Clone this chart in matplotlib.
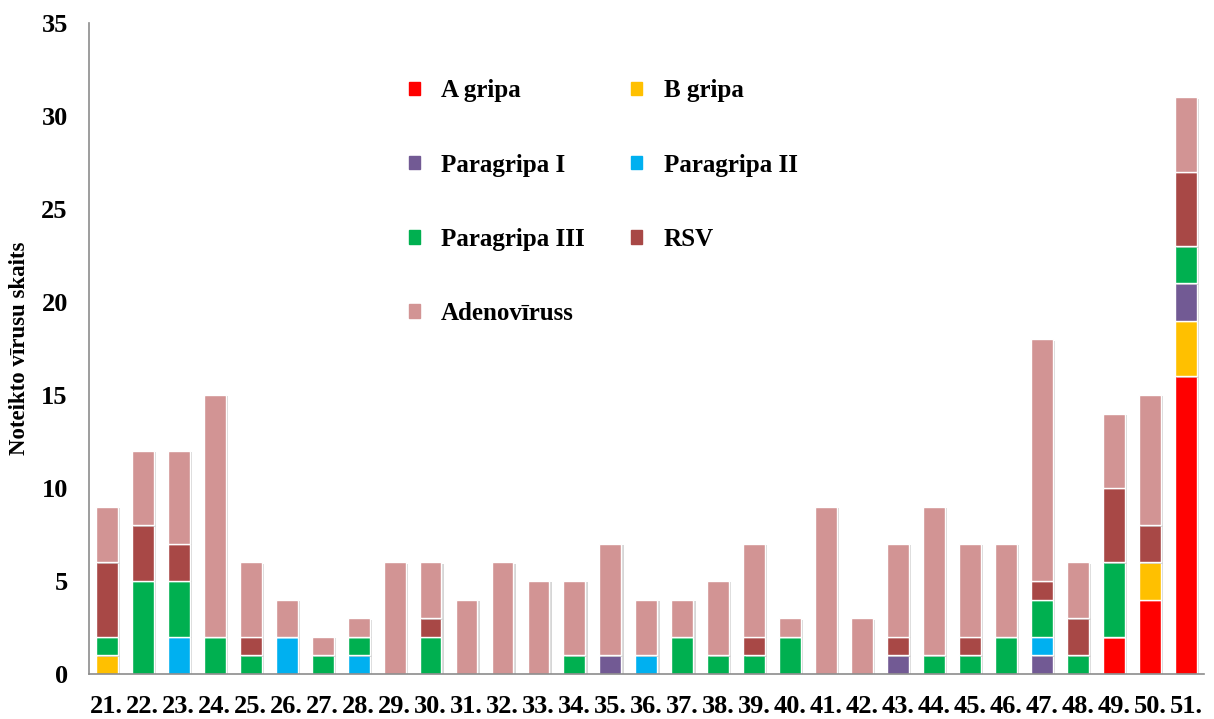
import numpy as np
import matplotlib.pyplot as plt
import matplotlib.patheffects as pe

weeks = [f"{w}." for w in range(21, 52)]

a_gripa = [0, 0, 0, 0, 0, 0, 0, 0, 0, 0, 0, 0, 0, 0, 0, 0, 0, 0, 0, 0, 0, 0, 0, 0, 0, 0, 0, 0, 2, 4, 16]
b_gripa = [1, 0, 0, 0, 0, 0, 0, 0, 0, 0, 0, 0, 0, 0, 0, 0, 0, 0, 0, 0, 0, 0, 0, 0, 0, 0, 0, 0, 0, 2, 3]
paragripa1 = [0, 0, 0, 0, 0, 0, 0, 0, 0, 0, 0, 0, 0, 0, 1, 0, 0, 0, 0, 0, 0, 0, 1, 0, 0, 0, 1, 0, 0, 0, 2]
paragripa2 = [0, 0, 2, 0, 0, 2, 0, 1, 0, 0, 0, 0, 0, 0, 0, 1, 0, 0, 0, 0, 0, 0, 0, 0, 0, 0, 1, 0, 0, 0, 0]
paragripa3 = [1, 5, 3, 2, 1, 0, 1, 1, 0, 2, 0, 0, 0, 1, 0, 0, 2, 1, 1, 2, 0, 0, 0, 1, 1, 2, 2, 1, 4, 0, 2]
rsv = [4, 3, 2, 0, 1, 0, 0, 0, 0, 1, 0, 0, 0, 0, 0, 0, 0, 0, 1, 0, 0, 0, 1, 0, 1, 0, 1, 2, 4, 2, 4]
adeno = [3, 4, 5, 13, 4, 2, 1, 1, 6, 3, 4, 6, 5, 4, 6, 3, 2, 4, 5, 1, 9, 3, 5, 8, 5, 5, 13, 3, 4, 7, 4]

series = [
    ("A gripa", a_gripa, "#FF0000"),
    ("B gripa", b_gripa, "#FFC000"),
    ("Paragripa I", paragripa1, "#725A94"),
    ("Paragripa II", paragripa2, "#00B0F0"),
    ("Paragripa III", paragripa3, "#00B050"),
    ("RSV", rsv, "#A84846"),
    ("Adenovīruss", adeno, "#D29494"),
]

plt.rcParams['font.family'] = ['Liberation Serif', 'DejaVu Serif']
plt.rcParams['font.weight'] = 'bold'

fig = plt.figure(figsize=(12.14, 7.19), dpi=100)
ax = fig.add_axes([0.073, 0.0626, 0.919, 0.9054])

x = np.arange(len(weeks))
bottom = np.zeros(len(weeks))
shadow = [pe.SimplePatchShadow(offset=(1.5, -1), shadow_rgbFace='#BBBBBB', alpha=0.6), pe.Normal()]
for name, vals, color in series:
    vals = np.array(vals, dtype=float)
    bars = ax.bar(x, vals, 0.61, bottom=bottom, color=color, edgecolor='white',
                  linewidth=1.0, label=name)
    for b, v in zip(bars, vals):
        if v > 0:
            b.set_path_effects(shadow)
    bottom += vals

ax.set_xlim(-0.5, len(weeks) - 0.5)
ax.set_ylim(0, 35)
ax.set_yticks(range(0, 36, 5))
ax.set_xticks(x)
ax.set_xticklabels(weeks)
ax.tick_params(axis='both', length=0, labelsize=19)
ax.tick_params(axis='y', pad=15)
ax.tick_params(axis='x', pad=15)
ax.set_ylabel('Noteikto vīrusu skaits', fontsize=16.5, fontweight='bold', labelpad=8)

for s in ['top', 'right']:
    ax.spines[s].set_visible(False)
for s in ['left', 'bottom']:
    ax.spines[s].set_color('#8C8C8C')
    ax.spines[s].set_linewidth(1.2)

# legend: row-wise order (A, B / PI, PII / PIII, RSV / Adeno)
legend_handles = [plt.Rectangle((0, 0), 1, 1, color=c) for _, _, c in series]
lookup = {n: h for (n, _, _), h in zip(series, legend_handles)}
order = ["A gripa", "Paragripa I", "Paragripa III", "Adenovīruss", "B gripa", "Paragripa II", "RSV"]
leg = ax.legend([lookup[n] for n in order], order, ncol=2, loc='upper left',
                bbox_to_anchor=(0.318, 0.921), bbox_transform=fig.transFigure,
                frameon=False, handlelength=0.45, handleheight=0.45,
                handletextpad=0.85, labelspacing=2.05, columnspacing=1.85,
                prop={'weight': 'bold', 'size': 18})

fig.savefig('out.png', dpi=100)
